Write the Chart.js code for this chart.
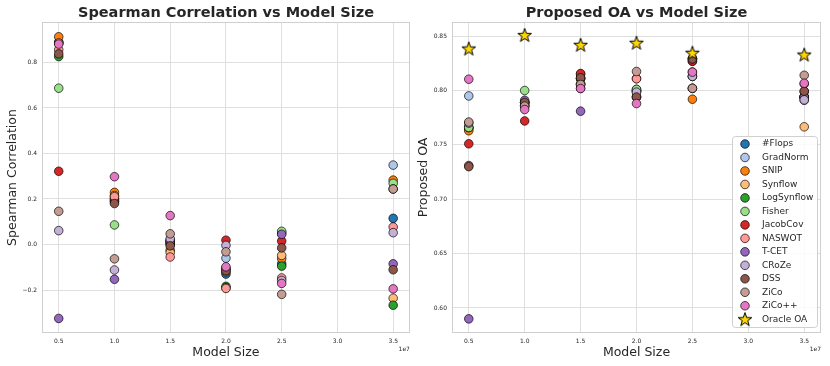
<!DOCTYPE html>
<html><head><meta charset="utf-8">
<script src="https://cdn.jsdelivr.net/npm/chart.js@4.4.0/dist/chart.umd.min.js"></script>
<style>
html,body{margin:0;padding:0;background:#fff;width:830px;height:366px;overflow:hidden}
.wrap{position:absolute;top:0;width:415px;height:366px}
canvas{display:block}
</style></head><body>
<div class="wrap" style="left:0"><canvas id="c1" width="415" height="366"></canvas></div>
<div class="wrap" style="left:415px"><canvas id="c2" width="415" height="366"></canvas></div>
<script>
// ---- data ----
const modelSizes = [5e6, 1e7, 1.5e7, 2e7, 2.5e7, 3.5e7];
const xTickValues = [5e6, 1e7, 1.5e7, 2e7, 2.5e7, 3e7, 3.5e7];
const spearmanTicks = [-0.2, 0.0, 0.2, 0.4, 0.6, 0.8];
const oaTicks = [0.60, 0.65, 0.70, 0.75, 0.80, 0.85];
const methods = ['#Flops','GradNorm','SNIP','Synflow','LogSynflow','Fisher','JacobCov','NASWOT','T-CET','CRoZe','DSS','ZiCo','ZiCo++'];
const methodColors = ['#1f77b4','#aec7e8','#ff7f0e','#ffbb78','#2ca02c','#98df8a','#d62728','#ff9896','#9467bd','#c5b0d5','#8c564b','#c49c94','#e377c2'];

// Spearman correlation per method (sizes 0.5,1.0,1.5,2.0,2.5,3.5 x1e7)
const spFlops      = [0.890, 0.190, 0.000, -0.130, -0.085, 0.115];
const spGradNorm   = [0.885, 0.200, 0.020, -0.060, 0.050, 0.349];
const spSNIP       = [0.913, 0.229, -0.025, -0.120, -0.062, 0.283];
const spSynflow    = [0.886, 0.215, -0.035, -0.110, -0.048, -0.236];
const spLogSynflow = [0.826, 0.190, 0.005, -0.184, -0.095, -0.267];
const spFisher     = [0.687, 0.086, 0.010, -0.190, 0.058, 0.269];
const spJacobCov   = [0.322, 0.200, 0.012, 0.019, 0.015, 0.244];
const spNASWOT     = [0.856, 0.210, -0.055, -0.193, -0.147, 0.077];
const spTCET       = [-0.325, -0.153, 0.015, -0.105, 0.045, -0.085];
const spCRoZe      = [0.061, -0.112, 0.025, -0.004, -0.158, 0.052];
const spDSS        = [0.838, 0.180, -0.006, -0.115, -0.015, -0.111];
const spZiCo       = [0.146, -0.063, 0.047, -0.032, -0.219, 0.244];
const spZiCoPP     = [0.881, 0.298, 0.127, -0.098, -0.171, -0.195];

// Proposed OA per method
const oaFlops      = [0.765, 0.789, 0.811, 0.800, 0.827, 0.794];
const oaGradNorm   = [0.795, 0.789, 0.806, 0.799, 0.813, 0.791];
const oaSNIP       = [0.763, 0.786, 0.811, 0.794, 0.792, 0.794];
const oaSynflow    = [0.766, 0.789, 0.815, 0.799, 0.802, 0.7666];
const oaLogSynflow = [0.766, 0.789, 0.811, 0.801, 0.813, 0.794];
const oaFisher     = [0.766, 0.800, 0.806, 0.801, 0.802, 0.794];
const oaJacobCov   = [0.751, 0.772, 0.8156, 0.811, 0.827, 0.799];
const oaNASWOT     = [0.731, 0.786, 0.8055, 0.8108, 0.817, 0.806];
const oaTCET       = [0.590, 0.791, 0.781, 0.794, 0.8294, 0.794];
const oaCRoZe      = [0.770, 0.786, 0.802, 0.7985, 0.813, 0.7914];
const oaDSS        = [0.730, 0.789, 0.8117, 0.794, 0.829, 0.7994];
const oaZiCo       = [0.771, 0.7856, 0.8055, 0.8175, 0.802, 0.814];
const oaZiCoPP     = [0.8104, 0.7825, 0.8018, 0.788, 0.8169, 0.8067];
const oracleOA     = [0.8386, 0.851, 0.842, 0.8439, 0.8347, 0.833];

const spearmanSeries = [spFlops,spGradNorm,spSNIP,spSynflow,spLogSynflow,spFisher,spJacobCov,spNASWOT,spTCET,spCRoZe,spDSS,spZiCo,spZiCoPP];
const oaSeries = [oaFlops,oaGradNorm,oaSNIP,oaSynflow,oaLogSynflow,oaFisher,oaJacobCov,oaNASWOT,oaTCET,oaCRoZe,oaDSS,oaZiCo,oaZiCoPP];

// ---- style ----
const FONT = "'DejaVu Sans', sans-serif";
const TXT = '#262626';
const GRID = '#dfdfdf';
const EDGE = 'rgba(0,0,0,0.85)';

// star image for Oracle OA
function makeStar(){
  const s = 18, c = document.createElement('canvas');
  c.width = s; c.height = s;
  const g = c.getContext('2d');
  const R = 7.2, r = 2.85, cx = s/2, cy = s/2 + 0.6;
  g.beginPath();
  for (let i = 0; i < 10; i++) {
    const rad = i % 2 === 0 ? R : r;
    const a = -Math.PI/2 + i * Math.PI/5;
    const px = cx + rad*Math.cos(a), py = cy + rad*Math.sin(a);
    i === 0 ? g.moveTo(px, py) : g.lineTo(px, py);
  }
  g.closePath();
  g.fillStyle = '#FFD700'; g.fill();
  g.lineWidth = 1; g.strokeStyle = '#000'; g.lineJoin = 'miter'; g.stroke();
  return c;
}
const starImg = makeStar();

function buildDatasets(series, withOracle){
  const n = methods.length + (withOracle ? 1 : 0);
  const ds = methods.map((m, i) => ({
    label: m,
    data: modelSizes.map((x, j) => ({x: x, y: series[i][j]})),
    backgroundColor: methodColors[i],
    borderColor: EDGE,
    pointRadius: 4.3,
    pointHoverRadius: 4.3,
    pointBorderWidth: 0.8,
    order: n - i
  }));
  if (withOracle) {
    ds.push({
      label: 'Oracle OA',
      data: modelSizes.map((x, j) => ({x: x, y: oracleOA[j]})),
      pointStyle: starImg,
      pointRadius: 8,
      backgroundColor: '#FFD700',
      borderColor: '#000',
      order: 0
    });
  }
  return ds;
}

const framePlugin = {
  id: 'frame',
  beforeDatasetsDraw(chart){
    const a = chart.chartArea, c = chart.ctx;
    c.save();
    c.strokeStyle = '#cfcfcf'; c.lineWidth = 1;
    c.strokeRect(Math.round(a.left)+0.5, Math.round(a.top)+0.5, Math.round(a.right-a.left)-1, Math.round(a.bottom-a.top)-1);
    c.restore();
  }
};
const offsetPlugin = {
  id: 'offsetText',
  afterDraw(chart){
    const a = chart.chartArea, c = chart.ctx;
    c.save();
    c.font = '6px ' + FONT; c.fillStyle = TXT;
    c.textAlign = 'right'; c.textBaseline = 'middle';
    c.fillText('1e7', a.right, 349);
    c.restore();
  }
};
const legendPlugin = {
  id: 'innerLegend',
  afterDraw(chart){
    const c = chart.ctx;
    const bx = 317, by = 136, bw = 85, bh = 191;
    c.save();
    c.beginPath();
    if (c.roundRect) c.roundRect(bx+0.5, by+0.5, bw, bh, 3); else c.rect(bx+0.5, by+0.5, bw, bh);
    c.fillStyle = 'rgba(255,255,255,0.85)'; c.fill();
    c.strokeStyle = '#d0d0d0'; c.lineWidth = 1; c.stroke();
    c.font = '9px ' + FONT; c.textBaseline = 'middle'; c.textAlign = 'left';
    chart.data.datasets.forEach((d, i) => {
      const y = 144 + i * 13.48;
      if (d.pointStyle === starImg) {
        c.drawImage(starImg, 330 - starImg.width/2, y - starImg.height/2);
      } else {
        c.beginPath(); c.arc(330, y, 4.3, 0, Math.PI*2);
        c.fillStyle = d.backgroundColor; c.fill();
        c.lineWidth = 0.8; c.strokeStyle = EDGE; c.stroke();
      }
      c.fillStyle = TXT;
      c.fillText(d.label, 347, y);
    });
    c.restore();
  }
};

function fmtSigned(v, dec){
  if (Math.abs(v) < 1e-9) return (0).toFixed(dec);
  return v < 0 ? '\u2212' + Math.abs(v).toFixed(dec) : v.toFixed(dec);
}

function makeChart(id, cfg){
  return new Chart(document.getElementById(id), {
    type: 'scatter',
    data: { datasets: cfg.datasets },
    options: {
      responsive: false, animation: false, devicePixelRatio: 1,
      layout: { padding: { left: 0, right: cfg.padRight, top: 0, bottom: 0 } },
      plugins: {
        legend: { display: false },
        tooltip: { enabled: false },
        title: {
          display: true, text: cfg.title, fullSize: false,
          color: TXT, font: { family: FONT, size: 14.5, weight: 'bold', lineHeight: 1.2 },
          padding: { top: 4.6, bottom: 0 }
        }
      },
      scales: {
        x: {
          type: 'linear', min: 3.5e6, max: 3.65e7,
          afterBuildTicks: s => { s.ticks = xTickValues.map(v => ({value: v})); },
          afterFit: s => { s.height = 33; },
          ticks: { callback: v => (v/1e7).toFixed(1), font: { family: FONT, size: 6 }, color: TXT, padding: 5, maxRotation: 0, autoSkip: false },
          grid: { color: GRID, lineWidth: 1, drawTicks: false },
          border: { display: false },
          title: { display: true, text: 'Model Size', color: TXT, font: { family: FONT, size: 12.5, lineHeight: 1.2 }, padding: { top: 0, bottom: 6 } }
        },
        y: {
          type: 'linear', min: cfg.yMin, max: cfg.yMax,
          afterBuildTicks: s => { s.ticks = cfg.yTicks.map(v => ({value: v})); },
          afterFit: s => { s.width = cfg.yWidth; },
          ticks: { callback: v => fmtSigned(v, cfg.dec), font: { family: FONT, size: 6 }, color: TXT, padding: 5, autoSkip: false },
          grid: { color: GRID, lineWidth: 1, drawTicks: false },
          border: { display: false },
          title: { display: true, text: cfg.yTitle, color: TXT, font: { family: FONT, size: 12.5, lineHeight: 1.2 }, padding: { top: cfg.yTitlePad, bottom: 0 } }
        }
      }
    },
    plugins: cfg.plugins
  });
}

makeChart('c1', {
  datasets: buildDatasets(spearmanSeries, false),
  title: 'Spearman Correlation vs Model Size',
  yTitle: 'Spearman Correlation',
  yMin: -0.389, yMax: 0.978, yTicks: spearmanTicks, dec: 1,
  yWidth: 42, padRight: 3, yTitlePad: 5,
  plugins: [framePlugin, offsetPlugin]
});
makeChart('c2', {
  datasets: buildDatasets(oaSeries, true),
  title: 'Proposed OA vs Model Size',
  yTitle: 'Proposed OA',
  yMin: 0.577, yMax: 0.863, yTicks: oaTicks, dec: 2,
  yWidth: 37, padRight: 7, yTitlePad: 0.8,
  plugins: [framePlugin, offsetPlugin, legendPlugin]
});
</script>
</body></html>
